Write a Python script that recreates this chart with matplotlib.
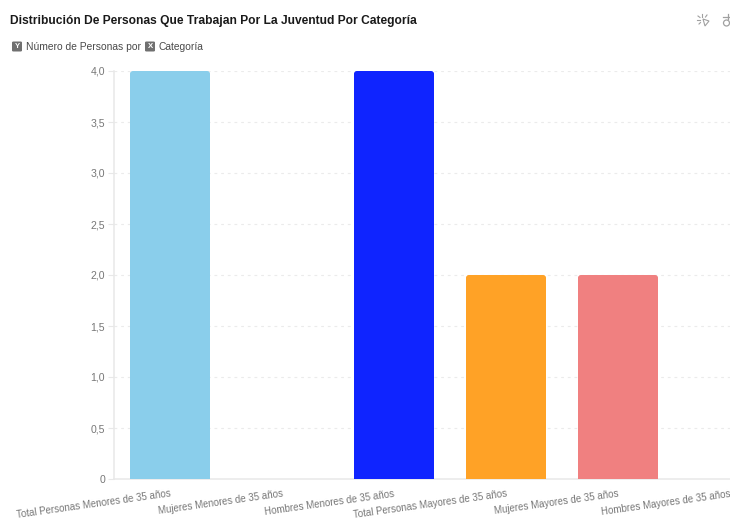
import matplotlib
matplotlib.use("Agg")
import matplotlib.pyplot as plt
from matplotlib.patches import FancyBboxPatch

plt.rcParams['font.family'] = ['Liberation Sans', 'DejaVu Sans']

title = "Distribución De Personas Que Trabajan Por La Juventud Por Categoría"
categories = ["Total Personas Menores de 35 años", "Mujeres Menores de 35 años",
              "Hombres Menores de 35 años", "Total Personas Mayores de 35 años",
              "Mujeres Mayores de 35 años", "Hombres Mayores de 35 años"]
values = [4, 0, 4, 2, 2, 0]
colors = ["#8ACEEB", "#1F6FEB", "#0F24FF", "#FFA226", "#F08080", "#A0A0A0"]
yticks = [0, 0.5, 1, 1.5, 2, 2.5, 3, 3.5, 4]
ylabels = ["0", "0,5", "1,0", "1,5", "2,0", "2,5", "3,0", "3,5", "4,0"]

W, H = 730, 520
fig = plt.figure(figsize=(W / 100, H / 100), dpi=100)
L, R, T, B = 114, 730, 71, 479
ax = fig.add_axes([L / W, 1 - B / H, (R - L) / W, (B - T) / H])
positions = list(range(len(categories)))
bars = ax.bar(positions, values, width=0.715, color=colors, linewidth=0, zorder=3)
ax.set_xlim(-0.5, 5.0)
ax.set_ylim(0, 4)

ax.set_yticks(yticks, ylabels)
ax.set_xticks(positions, categories)
ax.tick_params(axis='y', length=4.3, width=0.8, color="#E8E8E8", pad=2.2, labelsize=7.6, labelcolor="#777777")
ax.tick_params(axis='x', length=0, pad=7, labelsize=7.05, labelcolor="#777777")
for lab in ax.get_xticklabels():
    lab.set_rotation(8)
    lab.set_ha('right')
    lab.set_va('top')
    lab.set_rotation_mode('anchor')
    lab.set_clip_on(False)

ax.grid(axis='y', color="#EBEBEB", linewidth=0.8, linestyle=(0, (2.5, 3.5)), zorder=0)
ax.grid(axis='x', visible=False)
ax.set_axisbelow(True)
for s in ('top', 'right'):
    ax.spines[s].set_visible(False)
for s in ('left', 'bottom'):
    ax.spines[s].set_color("#E8E8E8")
    ax.spines[s].set_linewidth(1.1)
    ax.spines[s].set_zorder(2)
ax.yaxis.get_gridlines()[0].set_visible(False)

# slightly rounded bar tops
fig.canvas.draw()
for b in bars:
    if b.get_height() > 0:
        bb = b.get_window_extent()
        clip = FancyBboxPatch((bb.x0, bb.y0 - 10), bb.width, bb.height + 10,
                              boxstyle="round,pad=0,rounding_size=3",
                              transform=None, figure=fig)
        b.set_clip_path(clip)

fig.text(10 / W, 1 - 21 / H, title, fontsize=8.65, fontweight='bold', color="#1A1A1A",
         va='center', ha='left')


def badge(x, letter):
    fig.patches.append(FancyBboxPatch((x / W, 1 - 51.5 / H), 10 / W, 10 / H,
                                      boxstyle="round,pad=0,rounding_size=0.002",
                                      transform=fig.transFigure, facecolor="#707070",
                                      edgecolor="none", figure=fig))
    fig.text((x + 5) / W, 1 - 46.7 / H, letter, fontsize=5.6, fontweight='bold',
             color="white", ha='center', va='center')


badge(12, "Y")
fig.text(25.5 / W, 1 - 46.5 / H, "Número de Personas por", fontsize=7.4, color="#4A4A4A",
         va='center', ha='left')
badge(145, "X")
fig.text(158.5 / W, 1 - 46.5 / H, "Categoría", fontsize=7.4, color="#4A4A4A",
         va='center', ha='left')

# toolbar icons
icon = "#A0A0A0"
cx, cy = 703, 20
spokes = [(-5, -4, -3, -2.5), (-1, -6, -1, -3.5), (4, -5, 2.5, -3), (-6, 0, -3.5, 0), (-4, 4, -2.5, 2.5)]
for x0, y0, x1, y1 in spokes:
    fig.add_artist(plt.Line2D([(cx + x0) / W, (cx + x1) / W], [1 - (cy + y0) / H, 1 - (cy + y1) / H],
                              color=icon, linewidth=0.8))
fig.add_artist(plt.Polygon([[(cx) / W, 1 - (cy - 1) / H], [(cx + 6) / W, 1 - (cy + 1) / H],
                            [(cx + 2) / W, 1 - (cy + 6) / H]],
                           closed=True, fill=False, edgecolor=icon, linewidth=0.8,
                           transform=fig.transFigure))
fig.add_artist(plt.Line2D([723 / W, 730 / W], [1 - 16.5 / H, 1 - 16.5 / H], color=icon, linewidth=0.9))
fig.add_artist(plt.Line2D([727.5 / W, 727.5 / W], [1 - 14 / H, 1 - 19 / H], color=icon, linewidth=0.9))
fig.add_artist(matplotlib.patches.Ellipse((726.5 / W, 1 - 23 / H), 6 / W, 6 / H, fill=False,
                                          edgecolor=icon, linewidth=0.9, transform=fig.transFigure))

fig.savefig("out.png", dpi=100, facecolor="white")
